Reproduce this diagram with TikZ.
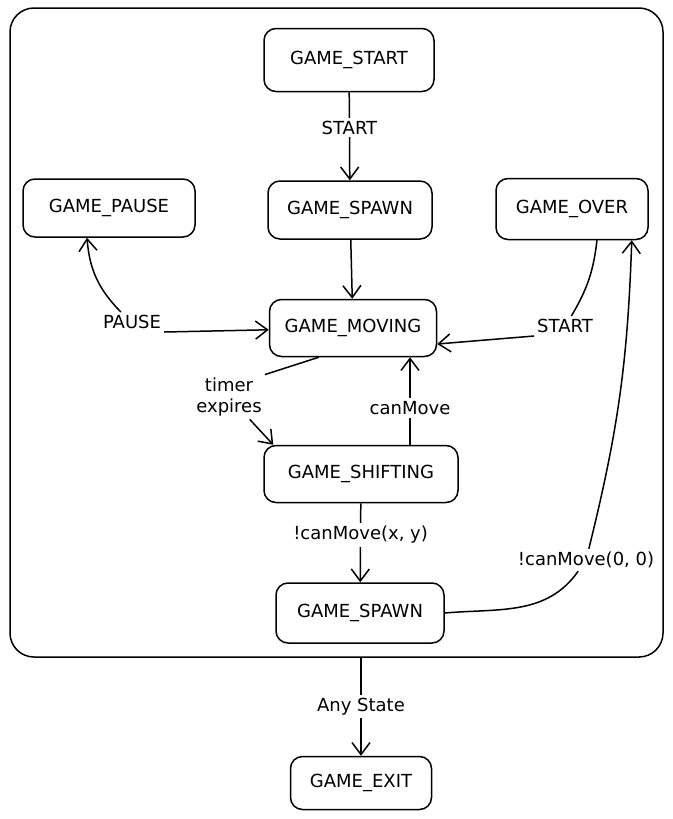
\documentclass[tikz,border=0pt]{standalone}
\usepackage{fontspec}
\setmainfont{DejaVu Sans}
\usetikzlibrary{arrows.meta}

\begin{document}
\begin{tikzpicture}[x=1pt,y=1pt,font=\fontsize{18}{21}\selectfont,
    >={Straight Barb[length=12pt,width=18pt]}]
			\useasboundingbox (0,0) rectangle (672,-819);

			\node (frame) at (336.5,-332.5) [draw,line width=1.5pt,rounded corners=24pt,
			      minimum width=653pt,minimum height=649pt] {};

			\begin{scope}[every node/.style={draw,line width=1.5pt,rounded corners=12pt,minimum height=58pt,inner sep=4pt}]
				\node (start) at (349,-60) [minimum width=170pt,minimum height=63pt] {GAME\_START};
				\node (spawn) at (350,-210) [minimum width=164pt] {GAME\_SPAWN};
				\node (pause) at (109,-208) [minimum width=172pt] {GAME\_PAUSE};
				\node (over) at (572,-209) [minimum width=152pt,minimum height=61pt] {GAME\_OVER};
				\node (moving) at (353,-328) [minimum width=167pt,minimum height=57pt] {GAME\_MOVING};
				\node (shifting) at (361,-474) [minimum width=194pt,minimum height=57pt] {GAME\_SHIFTING};
				\node (respawn) at (360,-613) [minimum width=168pt,minimum height=60pt] {GAME\_SPAWN};
				\node (exit) at (361,-783) [minimum width=141pt,minimum height=53pt] {GAME\_EXIT};
			\end{scope}

			\begin{scope}[every node/.style={fill=white,inner sep=3pt},
			              every edge/.style={draw=black,line width=1.5pt}]
				\node (pauselbl) at (132,-322) {PAUSE};
				\node (overlbl) at (565,-326) {START};
				\node (timerlbl) at (229,-397) [align=center] {timer\\expires};
				\node (zerolbl) at (586,-560) {!canMove(0, 0)};

				\path [->] (start) edge node [pos=0.4] {START} (spawn);
				\path [->] (spawn) edge (moving);
				\path [->] (pauselbl) edge [bend left=20] ([xshift=-22pt]pause.south);
				\path [->] (pauselbl.south east) edge (moving);
				\path [-] ([xshift=25pt]over.south) edge [bend left=12] (overlbl);
				\path [->] (overlbl.south west) edge ([yshift=-16pt]moving.east);
				\path [-] ([xshift=50pt]moving.south west) edge (timerlbl.north east);
				\path [->] (timerlbl) edge ([xshift=10pt]shifting.north west);
				\path [->] ([xshift=49pt]shifting.north) edge node [pos=0.42] {canMove} ([xshift=57pt]moving.south);
				\path [->] (shifting) edge node [pos=0.4] {!canMove(x, y)} (respawn);
				\path [-] (respawn.east) edge [out=5,in=-125] (zerolbl);
				\path [->] (zerolbl) edge [bend right=6] ([xshift=-17pt]over.south east);
				\path [->] (frame.south -| exit) edge node {Any State} (exit);
			\end{scope}
		\end{tikzpicture}
\end{document}
